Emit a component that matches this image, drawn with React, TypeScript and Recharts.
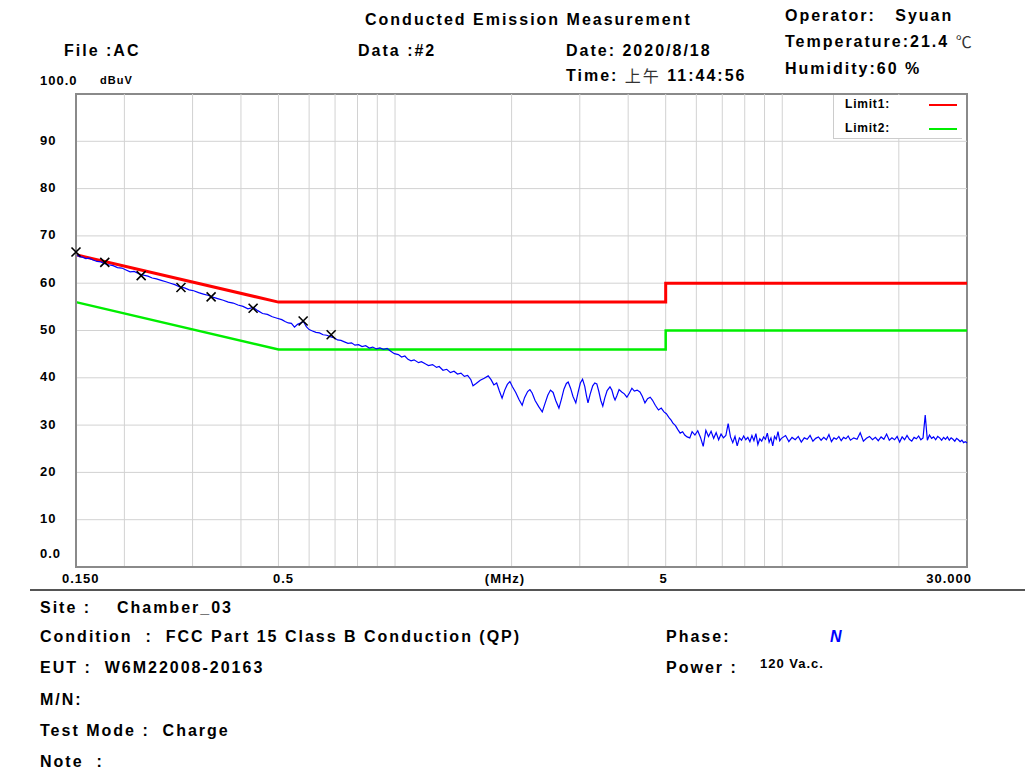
import React from "react";
import { ComposedChart, Line, Scatter, XAxis, YAxis, ReferenceLine, ReferenceArea, Legend } from "recharts";

// axis ticks
const freqTicks = [0.15, 0.5, 5, 30];
const freqTickLabels = ["0.150", "0.5", "5", "30.000"];
const levelTicks = [0, 10, 20, 30, 40, 50, 60, 70, 80, 90, 100];
const levelTickLabels = ["0.0", "10", "20", "30", "40", "50", "60", "70", "80", "90", "100.0"];
const gridFreqs = [0.2, 0.3, 0.4, 0.5, 0.6, 0.7, 0.8, 0.9, 1, 2, 3, 4, 5, 6, 7, 8, 9, 10, 20];
const gridLevels = [10, 20, 30, 40, 50, 60, 70, 80, 90];

// FCC class B limits (MHz, dBuV)
const limit1Freq = [0.15, 0.5, 5, 5, 30];
const limit1Db = [66, 56, 56, 60, 60];
const limit2Freq = [0.15, 0.5, 5, 5, 30];
const limit2Db = [56, 46, 46, 50, 50];

// QP marks
const peakFreq = [0.15, 0.178, 0.221, 0.28, 0.335, 0.43, 0.579, 0.684];
const peakDb = [66.6, 64.4, 61.6, 59.1, 57.1, 54.7, 52.0, 49.1];

const traceLow: [number, number][] = [
  [0.150, 66.1], [0.153, 65.6], [0.156, 65.5], [0.159, 65.2], [0.162, 65.3], [0.166, 64.9], [0.170, 64.6],
  [0.174, 64.5], [0.178, 64.1], [0.182, 63.9], [0.187, 63.7], [0.192, 63.3], [0.197, 63.2], [0.202, 62.8],
  [0.207, 62.4], [0.212, 62.5], [0.218, 62.0], [0.224, 61.7], [0.230, 61.5], [0.236, 61.1], [0.242, 60.9],
  [0.249, 60.6], [0.256, 60.3], [0.263, 60.0], [0.270, 59.7], [0.278, 59.2], [0.286, 59.0], [0.294, 58.6],
  [0.302, 58.4], [0.311, 58.0], [0.320, 57.7], [0.330, 57.4], [0.340, 57.0], [0.350, 56.7], [0.360, 56.4],
  [0.371, 56.0], [0.382, 55.8], [0.393, 55.4], [0.405, 55.1], [0.417, 54.6], [0.430, 54.9], [0.442, 54.2],
  [0.455, 53.6], [0.468, 53.4], [0.482, 52.9], [0.496, 52.6],
];
const traceMid: [number, number][] = [
  [0.510, 52.3], [0.520, 51.9], [0.530, 51.6], [0.540, 51.5], [0.550, 50.7], [0.560, 51.3], [0.570, 51.6],
  [0.580, 51.9], [0.590, 50.8], [0.600, 50.2], [0.612, 49.9], [0.625, 49.6], [0.638, 49.5], [0.652, 49.1],
  [0.666, 49.0], [0.680, 48.7], [0.695, 48.5], [0.710, 48.0], [0.725, 47.9], [0.740, 47.6], [0.756, 47.3],
  [0.772, 47.4], [0.788, 46.9], [0.805, 47.0], [0.822, 46.6], [0.840, 46.8], [0.858, 46.3], [0.876, 46.5],
  [0.895, 46.1], [0.914, 46.3], [0.934, 46.0], [0.954, 46.2], [0.975, 45.6], [0.996, 45.1], [1.02, 44.9],
  [1.04, 44.4], [1.06, 44.6], [1.08, 43.9], [1.10, 43.6], [1.12, 43.8], [1.15, 43.2], [1.17, 43.4],
  [1.20, 42.9], [1.22, 42.6], [1.25, 42.8], [1.28, 42.2], [1.30, 42.4], [1.33, 41.6], [1.36, 41.8],
  [1.39, 41.1], [1.42, 41.4], [1.45, 40.8], [1.48, 41.0], [1.51, 40.3], [1.54, 40.5],
];
const traceRipple: [number, number][] = [
  [1.57, 39.6], [1.59, 38.3], [1.62, 38.8], [1.66, 39.5], [1.70, 39.9], [1.74, 40.4], [1.77, 39.6],
  [1.80, 38.5], [1.83, 38.9], [1.86, 37.2], [1.89, 35.7], [1.92, 37.4], [1.95, 38.6], [1.98, 39.2],
  [2.01, 38.1], [2.05, 36.9], [2.09, 35.4], [2.13, 34.2], [2.16, 35.8], [2.20, 37.1], [2.23, 37.5],
  [2.26, 36.8], [2.30, 35.2], [2.35, 33.9], [2.40, 32.8], [2.44, 34.6], [2.48, 36.3], [2.52, 37.4],
  [2.56, 36.9], [2.60, 35.2], [2.65, 33.6], [2.69, 35.5], [2.73, 37.6], [2.77, 38.8], [2.80, 39.1],
  [2.84, 37.8], [2.88, 36.1], [2.93, 34.7], [2.97, 36.9], [3.01, 38.9], [3.05, 39.7], [3.09, 38.2],
  [3.12, 36.3], [3.15, 34.7], [3.19, 36.5], [3.24, 38.3], [3.28, 38.9], [3.32, 38.7], [3.36, 37.1],
  [3.40, 35.2], [3.44, 34.0], [3.48, 35.7], [3.53, 37.3], [3.59, 38.1], [3.63, 37.4], [3.67, 36.0],
  [3.70, 35.3], [3.74, 36.2], [3.79, 37.5], [3.85, 37.0], [3.91, 36.6], [3.97, 35.9], [4.03, 36.8],
  [4.09, 37.8], [4.15, 37.2], [4.22, 37.4], [4.29, 37.0], [4.35, 36.1], [4.42, 34.7], [4.49, 35.6],
  [4.56, 35.9], [4.62, 35.3], [4.70, 34.2], [4.79, 33.2], [4.87, 33.6], [4.95, 32.8], [5.02, 32.4],
  [5.10, 31.6], [5.17, 31.0], [5.22, 30.4], [5.30, 29.9], [5.37, 29.1], [5.45, 28.3], [5.53, 28.6],
  [5.60, 27.9], [5.68, 27.5], [5.77, 27.3],
];
const traceFloor: [number, number][] = [
  [5.85, 28.6], [5.95, 27.9], [6.05, 28.8], [6.15, 27.4], [6.25, 25.5], [6.35, 28.9], [6.45, 27.6],
  [6.55, 28.7], [6.65, 27.2], [6.75, 28.4], [6.85, 26.9], [6.95, 28.1], [7.05, 27.3], [7.15, 27.8],
  [7.25, 30.3], [7.35, 27.5], [7.45, 26.3], [7.55, 27.6], [7.65, 25.6], [7.75, 27.3], [7.85, 26.8],
  [7.95, 27.7], [8.05, 26.9], [8.15, 27.4], [8.25, 26.5], [8.35, 27.8], [8.45, 26.7], [8.55, 28.2],
  [8.65, 25.9], [8.75, 27.1], [8.85, 26.6], [8.95, 27.5], [9.05, 27.0], [9.15, 28.3], [9.25, 26.4],
  [9.35, 27.3], [9.45, 25.6], [9.55, 27.6], [9.65, 27.0], [9.75, 28.6], [9.85, 26.7], [9.95, 27.2],
  [10.2, 27.8], [10.4, 26.5], [10.6, 27.4], [10.8, 26.9], [11.0, 27.6], [11.2, 26.4], [11.4, 27.3],
  [11.6, 27.0], [11.8, 27.8], [12.0, 26.6], [12.2, 27.2], [12.4, 27.5], [12.6, 26.8], [12.8, 27.4],
  [13.0, 26.9], [13.2, 28.0], [13.4, 26.5], [13.6, 27.3], [13.8, 27.0], [14.0, 27.6], [14.2, 26.7],
  [14.4, 27.4], [14.6, 27.1], [14.8, 27.7], [15.0, 26.8], [15.3, 27.3], [15.6, 27.0], [15.9, 28.4],
  [16.2, 26.6], [16.5, 27.2], [16.8, 27.6], [17.1, 26.9], [17.4, 27.4], [17.7, 26.7], [18.0, 27.5],
  [18.3, 27.0], [18.6, 28.1], [18.9, 26.8], [19.2, 27.3], [19.5, 26.9], [19.8, 27.6], [20.1, 26.4],
  [20.4, 27.5], [20.7, 26.9], [21.0, 27.8], [21.3, 27.0], [21.6, 26.6], [21.9, 27.4], [22.2, 27.1],
  [22.5, 27.7], [22.8, 26.9], [23.1, 27.3], [23.4, 32.1], [23.7, 26.8], [24.0, 27.9], [24.3, 27.2],
  [24.6, 27.5], [24.9, 26.9], [25.2, 27.6], [25.5, 27.3], [25.8, 26.8], [26.1, 27.4], [26.4, 27.0],
  [26.7, 27.5], [27.0, 26.8], [27.3, 27.3], [27.6, 27.0], [27.9, 26.6], [28.2, 27.2], [28.5, 26.9],
  [28.8, 26.5], [29.1, 26.8], [29.4, 26.3], [29.7, 26.5], [30.0, 26.2],
];

const legendLabels = ["Limit1:", "Limit2:"];
const legendColors = ["#ff0000", "#00ee00"];

const limit1 = limit1Freq.map((f, i) => ({ f, v: limit1Db[i] }));
const limit2 = limit2Freq.map((f, i) => ({ f, v: limit2Db[i] }));
const peaks = peakFreq.map((f, i) => ({ f, v: peakDb[i] }));
const trace = [...traceLow, ...traceMid, ...traceRipple, ...traceFloor].map(([f, v]) => ({ f, v }));

const boldFont = "'Liberation Sans', Arial, sans-serif";
const tickStyle = { fontFamily: boldFont, fontWeight: 700, fontSize: 13, letterSpacing: 1, fill: "#000" };

function LevelTick(props: any) {
  const { y, payload } = props;
  const i = levelTicks.indexOf(payload.value);
  const dy = payload.value === 100 || payload.value === 0 ? -14 : -1;
  return (
    <text x={40} y={y + dy} dominantBaseline="central" style={tickStyle}>
      {levelTickLabels[i]}
    </text>
  );
}

function FreqTick(props: any) {
  const { x, payload } = props;
  const i = freqTicks.indexOf(payload.value);
  const anchor = i === 0 ? "start" : i === 3 ? "end" : "middle";
  const dx = [-14, 5, -2, 5][i];
  return (
    <text x={x + dx} y={578} textAnchor={anchor} dominantBaseline="central" style={tickStyle}>
      {freqTickLabels[i]}
    </text>
  );
}

function Cross(props: any) {
  const { cx, cy } = props;
  const r = 4.5;
  return <path d={`M${cx - r},${cy - r}L${cx + r},${cy + r}M${cx + r},${cy - r}L${cx - r},${cy + r}`} stroke="#000" strokeWidth={1.6} />;
}

function LegendBox() {
  return (
    <div style={{ width: 129, height: 44, background: "#fff", borderLeft: "1px solid #ccc", borderBottom: "1px solid #ccc", boxSizing: "border-box", position: "relative" }}>
      {legendLabels.map((l, i) => (
        <div key={l} style={{ position: "absolute", left: 11, top: 2 + i * 24, fontFamily: boldFont, fontWeight: 700, fontSize: 12, letterSpacing: 0.8, lineHeight: "15px" }}>
          {l}
          <span style={{ position: "absolute", left: 84, top: 7, width: 28, height: 2, background: legendColors[i] }} />
        </div>
      ))}
    </div>
  );
}

function T({ x, y, children, size = 16, spacing = 2, anchor = "start", fill = "#000", weight = 700, style }: any) {
  return (
    <text x={x} y={y} textAnchor={anchor} dominantBaseline="central" fill={fill}
      style={{ fontFamily: boldFont, fontWeight: weight, fontSize: size, letterSpacing: spacing, whiteSpace: "pre", ...style }}>
      {children}
    </text>
  );
}

const cjk = { fontFamily: "'Noto Sans CJK SC', sans-serif", fontWeight: 400, fill: "#333" };

export default function App() {
  return (
    <div style={{ position: "absolute", left: 0, top: 0, width: 1025, height: 772, background: "#fff", overflow: "hidden" }}>
      <div style={{ position: "absolute", left: 0, top: 0 }}>
        <ComposedChart width={1025} height={600} margin={{ top: 94, right: 58, bottom: 13, left: 0 }}>
          <XAxis dataKey="f" type="number" scale="log" domain={[0.15, 30]} ticks={freqTicks}
            tick={<FreqTick />} tickLine={false} axisLine={{ stroke: "#8a8a8a", strokeWidth: 2 }} height={20} />
          <YAxis dataKey="v" type="number" domain={[0, 100]} ticks={levelTicks}
            tick={<LevelTick />} tickLine={false} axisLine={{ stroke: "#8a8a8a", strokeWidth: 2 }} width={76} />
          {gridLevels.map((v) => (
            <ReferenceLine key={"h" + v} y={v} stroke="#d2d2d2" strokeWidth={1} />
          ))}
          {gridFreqs.map((f) => (
            <ReferenceLine key={"v" + f} x={f} stroke="#d2d2d2" strokeWidth={1} />
          ))}
          <Line data={limit2} dataKey="v" stroke="#00ee00" strokeWidth={2.5} dot={false} isAnimationActive={false} />
          <Line data={limit1} dataKey="v" stroke="#ff0000" strokeWidth={3} dot={false} isAnimationActive={false} />
          <Line data={trace} dataKey="v" stroke="#0000ff" strokeWidth={1.2} dot={false} isAnimationActive={false} />
          <Scatter data={peaks} dataKey="v" shape={<Cross />} isAnimationActive={false} />
          <ReferenceArea x1={0.15} x2={30} y1={0} y2={100} fill="none" stroke="#8a8a8a" strokeWidth={2} />
          <Legend layout="vertical" align="center" verticalAlign="middle" content={<LegendBox />}
            wrapperStyle={{ left: 833, top: 95, width: 129, height: 44 }} />
        </ComposedChart>
      </div>
      <svg width={1025} height={772} style={{ position: "absolute", left: 0, top: 0, pointerEvents: "none" }}>
        <T x={365} y={19}>Conducted Emission Measurement</T>
        <T x={64} y={50}>File :AC</T>
        <T x={358} y={50}>Data :#2</T>
        <T x={566} y={50}>Date: 2020/8/18</T>
        <T x={566} y={75}>Time: <tspan style={cjk}>上午</tspan> 11:44:56</T>
        <T x={785} y={15}>Operator:   Syuan</T>
        <T x={785} y={41}>Temperature:21.4 <tspan style={cjk}>℃</tspan></T>
        <T x={785} y={68}>Humidity:60 %</T>
        <T x={100} y={80} size={11} spacing={1}>dBuV</T>
        <T x={505} y={578} size={13} spacing={1} anchor="middle">(MHz)</T>
        <line x1={30} y1={590} x2={1025} y2={590} stroke="#555" strokeWidth={2} />
        <T x={40} y={607}>Site :    Chamber_03</T>
        <T x={40} y={636}>Condition  :  FCC Part 15 Class B Conduction (QP)</T>
        <T x={666} y={636}>Phase:</T>
        <T x={830} y={636} fill="#0000ff" style={{ fontStyle: "italic" }}>N</T>
        <T x={40} y={667}>EUT :  W6M22008-20163</T>
        <T x={666} y={667}>Power :</T>
        <T x={760} y={663} size={13} spacing={1}>120 Va.c.</T>
        <T x={40} y={699}>M/N:</T>
        <T x={40} y={730}>Test Mode :  Charge</T>
        <T x={40} y={761}>Note  :</T>
      </svg>
    </div>
  );
}
